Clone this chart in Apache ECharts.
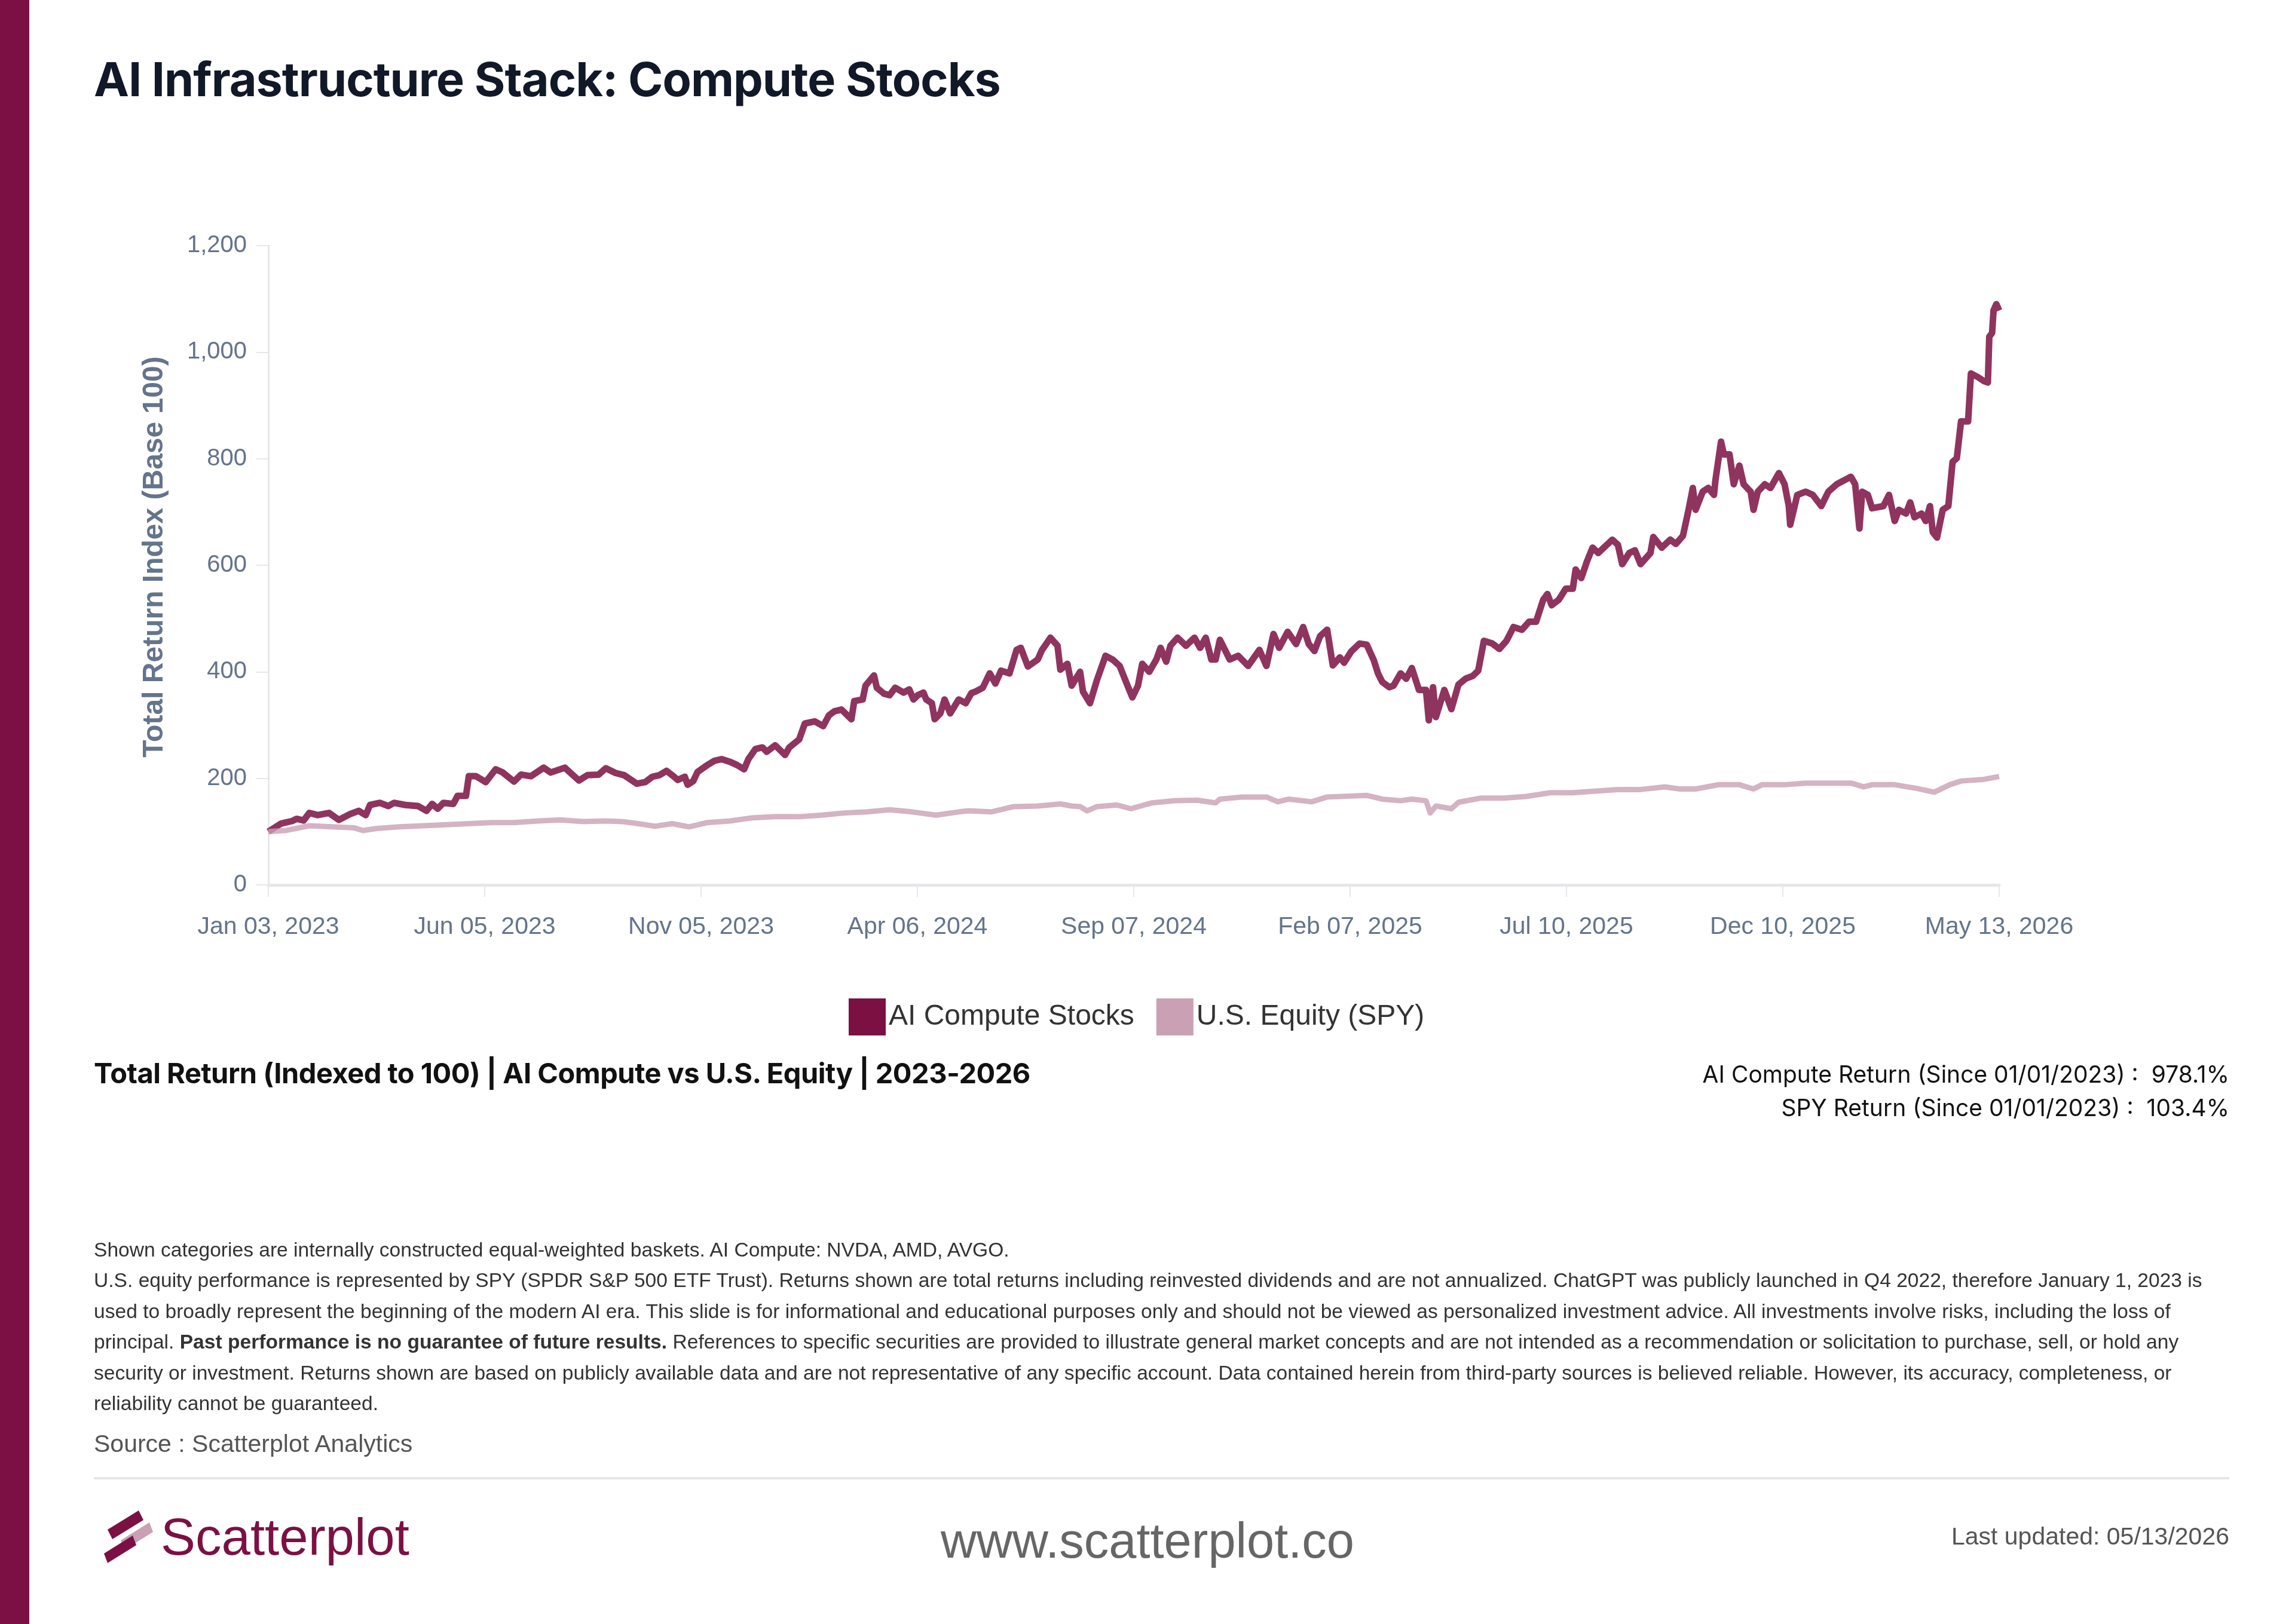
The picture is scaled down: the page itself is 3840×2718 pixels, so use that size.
<!DOCTYPE html>
<html>
<head>
<meta charset="utf-8">
<title>AI Infrastructure Stack: Compute Stocks</title>
<script src="https://cdn.jsdelivr.net/npm/echarts@6/dist/echarts.min.js"></script>
<style>
  html, body { margin: 0; padding: 0; background: #fff; }
  #page { position: relative; width: 3840px; height: 2718px; overflow: hidden; font-family: "Liberation Sans", Arial, sans-serif; }
  #bar { position: absolute; left: 0; top: 0; width: 49px; height: 2718px; background: #7b1143; }
  #chart { position: absolute; left: 0; top: 0; width: 3840px; height: 2718px; }
  .abs { position: absolute; white-space: nowrap; line-height: 1; }
  #title { left: 157px; top: 93px; font-family: Inter, sans-serif; font-weight: 700; font-size: 79px; color: #111827; letter-spacing: -1px; }
  #subtitle { left: 157px; top: 1772px; font-family: Inter, sans-serif; font-weight: 700; font-size: 47px; color: #111; letter-spacing: -0.5px; }
  #stats { right: 110px; top: 1770px; font-family: Inter, sans-serif; font-size: 39px; color: #111; text-align: right; line-height: 56px; }
  #notes { left: 157px; top: 2066px; font-size: 33.6px; color: #333; line-height: 51.4px; }
  #source { left: 157px; top: 2396px; font-size: 41px; color: #555; }
  #sep { position: absolute; left: 157px; top: 2472px; width: 3573px; height: 4px; background: #e6e6e6; }
  #logo { position: absolute; left: 172px; top: 2520px; }
  #brand { left: 269px; top: 2528px; font-size: 87px; color: #7b1143; }
  #site { left: 0; width: 3840px; text-align: center; top: 2537px; font-size: 83px; color: #666; }
  #updated { right: 110px; top: 2551px; font-size: 41px; color: #555; }
</style>
</head>
<body>
<div id="page">
  <div id="bar"></div>
  <div id="chart"></div>
  <div class="abs" id="title">AI Infrastructure Stack: Compute Stocks</div>
  <div class="abs" id="subtitle">Total Return (Indexed to 100) | AI Compute vs U.S. Equity | 2023-2026</div>
  <div class="abs" id="stats">AI Compute Return (Since 01/01/2023) :&nbsp; 978.1%<br>SPY Return (Since 01/01/2023) :&nbsp; 103.4%</div>
  <div class="abs" id="notes">Shown categories are internally constructed equal-weighted baskets. AI Compute: NVDA, AMD, AVGO.<br>U.S. equity performance is represented by SPY (SPDR S&amp;P 500 ETF Trust). Returns shown are total returns including reinvested dividends and are not annualized. ChatGPT was publicly launched in Q4 2022, therefore January 1, 2023 is<br>used to broadly represent the beginning of the modern AI era. This slide is for informational and educational purposes only and should not be viewed as personalized investment advice. All investments involve risks, including the loss of<br>principal. <b>Past performance is no guarantee of future results.</b> References to specific securities are provided to illustrate general market concepts and are not intended as a recommendation or solicitation to purchase, sell, or hold any<br>security or investment. Returns shown are based on publicly available data and are not representative of any specific account. Data contained herein from third-party sources is believed reliable. However, its accuracy, completeness, or<br>reliability cannot be guaranteed.</div>
  <div class="abs" id="source">Source : Scatterplot Analytics</div>
  <div id="sep"></div>
  <svg id="logo" width="84" height="96" viewBox="0 0 84 96">
    <polygon points="8,40 60,8 68,24 16,56" fill="#7b1143"/>
    <polygon points="30,58 78,28 84,44 36,74" fill="#c9a0b4"/>
    <polygon points="2,80 50,50 56,66 8,96" fill="#7b1143"/>
  </svg>
  <div class="abs" id="brand">Scatterplot</div>
  <div class="abs" id="site">www.scatterplot.co</div>
  <div class="abs" id="updated">Last updated: 05/13/2026</div>
</div>
<script>
// x values are trading days counted from Jan 03, 2023
const xTickLabels = ['Jan 03, 2023', 'Jun 05, 2023', 'Nov 05, 2023', 'Apr 06, 2024', 'Sep 07, 2024',
  'Feb 07, 2025', 'Jul 10, 2025', 'Dec 10, 2025', 'May 13, 2026']
const xStep = 153.25
const seriesNames = ['AI Compute Stocks', 'U.S. Equity (SPY)']

const aiDay = [0, 9, 17, 20, 25, 29, 35, 43, 50, 58, 64, 69, 72, 79, 85, 89, 97, 106, 112, 116, 120, 124, 131, 134, 140,
  142, 147, 154, 161, 166, 174, 179, 186, 195, 200, 210, 220, 226, 234, 239, 246, 252, 261, 267, 272, 277, 282, 286, 290,
  295, 297, 301, 304, 311, 316, 321, 327, 332, 337, 340, 345, 350, 353, 359, 366, 369, 376, 380, 387, 393, 397, 401, 406,
  413, 415, 421, 423, 429, 431, 436, 440, 444, 450, 454, 457, 460, 464, 466, 470, 472, 476, 479, 483, 489, 494, 498, 501,
  506, 511, 515, 519, 525, 530, 533, 538, 545, 548, 554, 559, 561, 566, 569, 575, 577, 582, 587, 593, 598, 603, 608, 612,
  616, 619, 624, 629, 632, 636, 639, 644, 650, 656, 660, 664, 668, 671, 674, 681, 687, 694, 702, 707, 712, 716, 722, 728,
  733, 737, 741, 745, 750, 754, 759, 762, 767, 773, 778, 783, 786, 789, 794, 797, 802, 806, 810, 815, 820, 822, 825, 827,
  833, 838, 843, 848, 853, 857, 861, 867, 872, 877, 882, 888, 893, 898, 903, 906, 909, 914, 919, 924, 926, 930, 934, 938,
  942, 946, 952, 956, 959, 964, 968, 972, 979, 981, 987, 993, 997, 1002, 1006, 1009, 1011, 1016, 1020, 1024, 1025, 1029,
  1031, 1035, 1038, 1042, 1045, 1050, 1052, 1055, 1060, 1064, 1070, 1074, 1077, 1078, 1083, 1089, 1094, 1100, 1105, 1111,
  1116, 1121, 1124, 1127, 1129, 1133, 1136, 1144, 1148, 1152, 1155, 1160, 1163, 1166, 1171, 1174, 1177, 1179, 1182, 1186,
  1190, 1193, 1196, 1199, 1204, 1206, 1211, 1215, 1218, 1219, 1221, 1222, 1224, 1226]
const aiValue = [100, 115, 120, 124, 121, 135, 131, 135, 122, 133, 139, 131, 150, 154, 148, 154, 150, 148, 139, 152, 143, 154, 152, 167, 167,
  204, 204, 193, 217, 211, 194, 207, 204, 220, 211, 220, 196, 206, 207, 219, 210, 206, 190, 193, 203, 206, 214, 206, 197,
  203, 188, 195, 212, 225, 233, 236, 231, 225, 217, 236, 255, 258, 250, 262, 244, 258, 273, 303, 307, 298, 318, 326, 329,
  311, 345, 348, 374, 393, 370, 359, 356, 370, 361, 367, 348, 356, 361, 348, 341, 311, 322, 348, 322, 348, 341, 360, 363,
  370, 397, 378, 402, 397, 441, 445, 410, 423, 441, 464, 449, 404, 415, 374, 400, 363, 341, 385, 430, 423, 411, 378, 352,
  374, 415, 400, 423, 445, 419, 449, 464, 449, 464, 445, 464, 423, 423, 460, 423, 430, 411, 441, 411, 471, 445, 475, 452,
  484, 452, 439, 467, 479, 412, 427, 417, 438, 453, 451, 422, 397, 381, 371, 374, 397, 387, 407, 366, 366, 309, 371, 315,
  366, 330, 376, 387, 392, 402, 458, 453, 443, 458, 484, 479, 494, 494, 535, 546, 525, 535, 556, 556, 592, 576, 607, 633,
  623, 633, 648, 638, 602, 623, 628, 602, 623, 653, 633, 648, 640, 655, 704, 745, 704, 738, 745, 732, 759, 832,
  808, 808, 752, 787, 752, 738, 704, 738, 752, 745, 773, 752, 711, 676, 732, 738, 732, 711, 738, 752,
  759, 766, 752, 669, 738, 732, 707, 711, 732, 683, 704, 697, 718, 690, 697, 683, 711, 662, 652, 704,
  711, 794, 801, 870, 870, 960, 953, 946, 943, 1029, 1036, 1078, 1090, 1078.1]

const spyDay = [0, 12, 29, 45, 61, 67, 77, 93, 110, 126, 142, 158, 174, 191, 207, 223, 239, 250, 262, 274, 286, 298, 311,
  327, 343, 359, 376, 392, 408, 424, 440, 456, 473, 489, 496, 512, 528, 545, 561, 569, 575, 580, 587, 601, 611, 626, 642,
  658, 671, 674, 690, 707, 715, 723, 739, 750, 778, 789, 802, 810, 820, 823, 827, 838, 843, 859, 875, 891, 908, 924, 940,
  956, 972, 989, 1000, 1011, 1027, 1042, 1052, 1058, 1074, 1089, 1105, 1121, 1130, 1136, 1152, 1168, 1180, 1191, 1199,
  1215, 1226]
const spyValue = [100, 102, 111, 109, 107, 102, 106, 109, 111, 113, 115, 117, 117, 120, 122, 119, 120, 119, 115, 110, 115, 109, 117,
  120, 126, 128, 128, 131, 135, 137, 141, 137, 131, 137, 139, 137, 147, 148, 152, 148, 147, 139, 147, 150, 143, 154, 158,
  159, 154, 161, 165, 165, 156, 161, 156, 165, 168, 161, 158, 161, 158, 135, 148, 143, 155, 163, 163, 166, 173, 173, 176,
  179, 179, 184, 180, 180, 188, 188, 180, 188, 188, 191, 191, 191, 184, 188, 188, 181, 174, 188, 195,
  198, 203.4]

function pairs(days, values) {
  return days.map((d, i) => [d, values[i]])
}

const chart = echarts.init(document.getElementById('chart'))
chart.setOption({
  animation: false,
  grid: { left: 449, right: 495, top: 411, bottom: 1237 },
  legend: {
    left: 1415,
    top: 1666,
    icon: 'rect',
    itemWidth: 62,
    itemHeight: 62,
    itemGap: 37,
    data: seriesNames,
    textStyle: { fontSize: 48, color: '#333', fontFamily: 'Liberation Sans' }
  },
  xAxis: {
    type: 'value',
    min: 0,
    max: 1226,
    interval: xStep,
    axisLine: { show: true, lineStyle: { color: '#e5e7eb', width: 5 } },
    axisTick: { show: true, length: 20, lineStyle: { color: '#e5e7eb', width: 2 } },
    splitLine: { show: false },
    axisLabel: {
      margin: 50,
      fontSize: 41,
      color: '#64748b',
      fontFamily: 'Liberation Sans',
      formatter: v => xTickLabels[Math.round(v / xStep)]
    }
  },
  yAxis: {
    type: 'value',
    min: 0,
    max: 1200,
    interval: 200,
    name: 'Total Return Index (Base 100)',
    nameLocation: 'middle',
    nameGap: 166,
    nameTextStyle: { fontSize: 48, fontWeight: 'bold', color: '#64748b', fontFamily: 'Liberation Sans', padding: [0, 0, 0, 28] },
    axisLine: { show: true, lineStyle: { color: '#e5e7eb', width: 3 } },
    axisTick: { show: true, length: 20, lineStyle: { color: '#e5e7eb', width: 2 } },
    splitLine: { show: false },
    axisLabel: {
      margin: 36,
      fontSize: 40,
      color: '#64748b',
      fontFamily: 'Liberation Sans',
      formatter: v => v.toLocaleString('en-US')
    }
  },
  series: [
    {
      name: seriesNames[0],
      type: 'line',
      showSymbol: false,
      data: pairs(aiDay, aiValue),
      itemStyle: { color: '#7b1143' },
      lineStyle: { color: '#7b1143', width: 11, opacity: 0.85, join: 'round' }
    },
    {
      name: seriesNames[1],
      type: 'line',
      showSymbol: false,
      data: pairs(spyDay, spyValue),
      itemStyle: { color: '#c9a0b4' },
      lineStyle: { color: '#c9a0b4', width: 9, opacity: 0.8, join: 'round' }
    }
  ]
})
</script>
</body>
</html>
